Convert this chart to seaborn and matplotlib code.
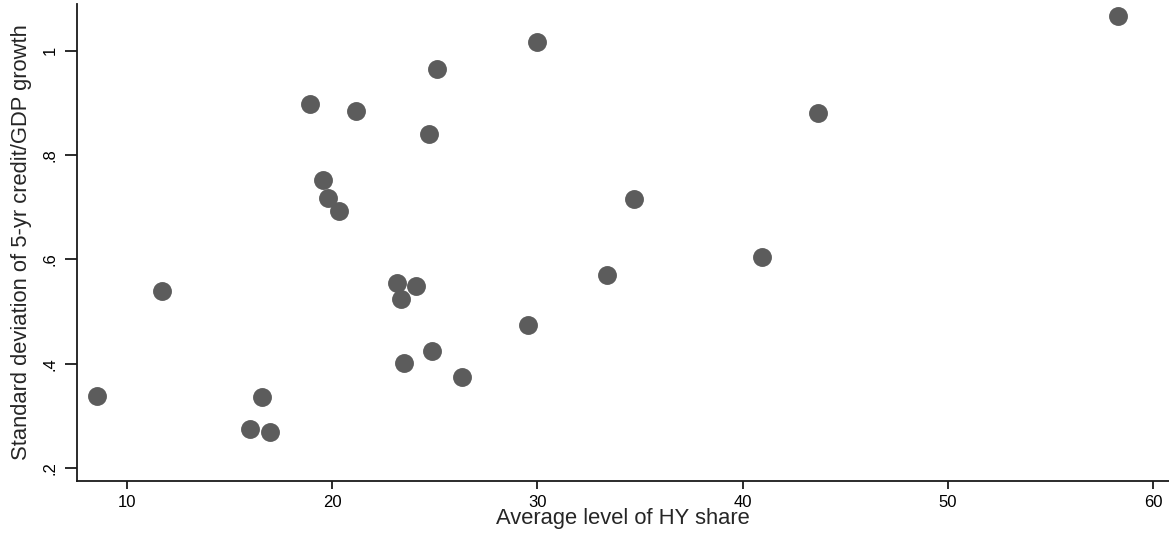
import matplotlib
matplotlib.use("Agg")
import matplotlib.pyplot as plt
import seaborn as sns
import pandas as pd

# Data
hy_share = [8.57, 11.70, 16.00, 16.60, 16.97, 18.93, 19.57, 19.80, 20.33, 21.18,
            23.19, 23.35, 23.51, 24.08, 24.73, 24.89, 25.13, 26.33, 29.56, 30.00,
            33.41, 34.70, 40.92, 43.67, 58.30]
sd_growth = [0.3386, 0.539, 0.2748, 0.337, 0.2696, 0.897, 0.7516, 0.717, 0.6927, 0.884,
             0.554, 0.524, 0.401, 0.548, 0.840, 0.4244, 0.9655, 0.3751, 0.474, 1.0173,
             0.570, 0.715, 0.605, 0.880, 1.066]
x_ticks = [10, 20, 30, 40, 50, 60]
y_ticks = [0.2, 0.4, 0.6, 0.8, 1.0]
y_tick_labels = [".2", ".4", ".6", ".8", "1"]
x_label = "Average level of HY share"
y_label = "Standard deviation of 5-yr credit/GDP growth"

df = pd.DataFrame({"hy": hy_share, "sd": sd_growth})

sns.set_style("ticks")
plt.rcParams["font.family"] = ["Liberation Sans", "DejaVu Sans"]

fig = plt.figure(figsize=(11.69, 5.33), dpi=100)
ax = fig.add_axes([0.0656, 0.0981, 1.0 - 0.0656, 0.9925 - 0.0981])

sns.scatterplot(data=df, x="hy", y="sd", ax=ax, s=185, color="#5c5c5c",
                linewidth=0, alpha=1.0, legend=False)

ax.set_xlim(7.57, 60.76)
ax.set_ylim(0.1757, 1.0895)
ax.set_xticks(x_ticks)
ax.set_xticklabels([str(t) for t in x_ticks])
ax.set_yticks(y_ticks)
ax.set_yticklabels(y_tick_labels, rotation=90, va="center")

sns.despine(ax=ax)
for side in ("left", "bottom"):
    ax.spines[side].set_linewidth(1.3)
    ax.spines[side].set_color("#1a1a1a")

ax.tick_params(axis="x", length=6, width=1.3, pad=4, labelsize=12, colors="#1a1a1a", labelcolor="black")
ax.tick_params(axis="y", length=8.5, width=1.3, pad=5, labelsize=12, colors="#1a1a1a", labelcolor="black")

ax.set_xlabel(x_label, fontsize=15.8, labelpad=-1)
ax.set_ylabel(y_label, fontsize=15.8, labelpad=8)

fig.savefig("out.png", dpi=100)
